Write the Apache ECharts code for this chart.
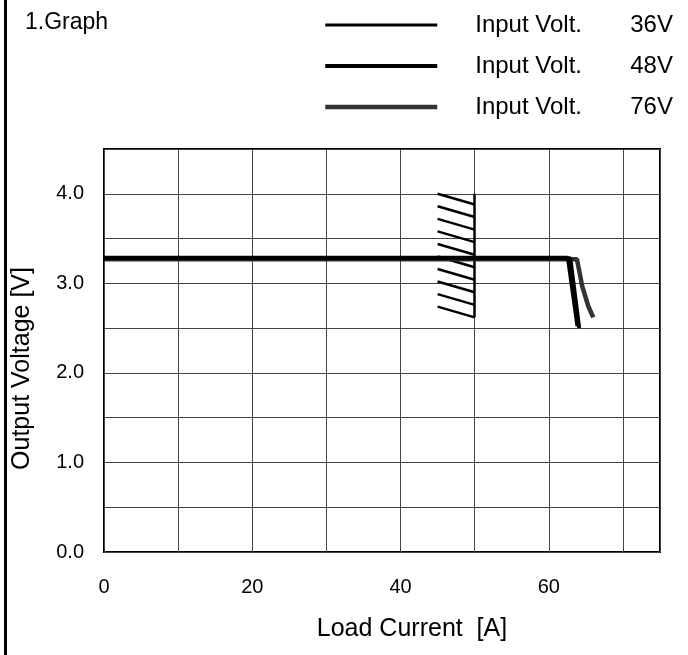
<!DOCTYPE html>
<html><head><meta charset="utf-8">
<script src="https://cdn.jsdelivr.net/npm/echarts@6/dist/echarts.min.js"></script>
<style>html,body{margin:0;padding:0;background:#fff}#c{width:688px;height:655px}</style>
</head><body><div id="c"></div>
<script>
// ---- data ----
const xTickLabels = [0, 20, 40, 60];
const yTickLabels = [0, 1, 2, 3, 4];
const legendNames = ['36V', '48V', '76V'];
const load36 = [0, 62.5, 63.8];
const volt36 = [3.29, 3.29, 2.52];
const load48 = [0, 62.9, 64.1];
const volt48 = [3.28, 3.28, 2.50];
const load76 = [0, 63.8, 64.5, 65.3, 66.0];
const volt76 = [3.27, 3.27, 2.97, 2.75, 2.62];
const hatchLeftLoad = [45, 45, 45, 45, 45, 45, 45, 45, 45, 45];
const hatchLeftVolt = [4.00, 3.86, 3.72, 3.58, 3.44, 3.30, 3.16, 3.02, 2.88, 2.74];
const hatchRightLoad = [50, 50, 50, 50, 50, 50, 50, 50, 50, 50];
const hatchRightVolt = [3.88, 3.74, 3.60, 3.46, 3.32, 3.18, 3.04, 2.90, 2.76, 2.62];
const hatchEdgeLoad = [50, 50];
const hatchEdgeVolt = [4.00, 2.62];

const FONT = 'Liberation Sans';
const pairs = (xs, ys) => xs.map((x, i) => [x, ys[i]]);
const hatchData = hatchLeftLoad.map((x, i) => ({ coords: [[x, hatchLeftVolt[i]], [hatchRightLoad[i], hatchRightVolt[i]]] }));
hatchData.push({ coords: pairs(hatchEdgeLoad, hatchEdgeVolt) });

const chart = echarts.init(document.getElementById('c'), null, { renderer: 'canvas' });
chart.setOption({
  animation: false,
  backgroundColor: '#fff',
  title: {
    text: '1.Graph', left: 20, top: 6,
    textStyle: { fontFamily: FONT, fontSize: 23, fontWeight: 'normal', color: '#000' }
  },
  legend: {
    orient: 'vertical', left: 318, top: 8,
    itemWidth: 112, itemHeight: 20, itemGap: 17,
    data: legendNames,
    lineStyle: { width: 'inherit' },
    itemStyle: { opacity: 0 },
    formatter: n => '{a|Input Volt.}{b|' + n + '}',
    textStyle: {
      fontFamily: FONT, color: '#000',
      rich: {
        a: { fontFamily: FONT, fontSize: 24, color: '#000', width: 155, padding: [0, 0, 0, 33] },
        b: { fontFamily: FONT, fontSize: 24, color: '#000' }
      }
    }
  },
  graphic: [{
    type: 'rect', left: 4, top: 0, shape: { width: 3, height: 655 }, style: { fill: '#000' }
  }],
  grid: { left: 104, right: 28, top: 149, bottom: 103, show: true, borderColor: '#000', borderWidth: 2, containLabel: false },
  xAxis: {
    type: 'value', min: 0, max: 75, interval: 10,
    axisLine: { show: false }, axisTick: { show: false },
    splitLine: { show: true, lineStyle: { color: '#444', width: 1 } },
    axisLabel: {
      margin: 25, fontFamily: FONT, fontSize: 20, color: '#000',
      formatter: v => xTickLabels.includes(v) ? String(v) : ''
    },
    name: 'Load Current  [A]', nameLocation: 'middle', nameGap: 65,
    nameTextStyle: { fontFamily: FONT, fontSize: 25, color: '#000', padding: [0, 0, 0, 60] }
  },
  yAxis: {
    type: 'value', min: 0, max: 4.5, interval: 0.5,
    axisLine: { show: false }, axisTick: { show: false },
    splitLine: { show: true, lineStyle: { color: '#444', width: 1 } },
    axisLabel: {
      margin: 20, fontFamily: FONT, fontSize: 20, color: '#000',
      formatter: v => yTickLabels.includes(v) ? v.toFixed(1) : ''
    },
    name: 'Output Voltage [V]', nameLocation: 'middle', nameGap: 69,
    nameTextStyle: { fontFamily: FONT, fontSize: 25, color: '#000', padding: [0, 36, 0, 0] }
  },
  series: [
    {
      name: '76V', type: 'line', symbol: 'none', z: 3,
      data: pairs(load76, volt76),
      lineStyle: { color: '#333', width: 4.5 }, itemStyle: { color: '#333' }
    },
    {
      name: '48V', type: 'line', symbol: 'none', z: 4,
      data: pairs(load48, volt48),
      lineStyle: { color: '#000', width: 4 }, itemStyle: { color: '#000' }
    },
    {
      name: '36V', type: 'line', symbol: 'none', z: 5,
      data: pairs(load36, volt36),
      lineStyle: { color: '#000', width: 3 }, itemStyle: { color: '#000' }
    },
    {
      name: 'hatch', type: 'lines', coordinateSystem: 'cartesian2d', z: 2,
      data: hatchData,
      lineStyle: { color: '#000', width: 2.5, opacity: 1 }
    }
  ]
});
</script></body></html>
